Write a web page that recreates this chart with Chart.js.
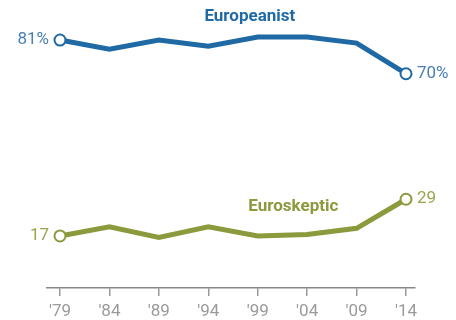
<!DOCTYPE html>
<html>
<head>
<meta charset="utf-8">
<script src="https://cdn.jsdelivr.net/npm/chart.js@4"></script>
<style>
  html, body { margin: 0; padding: 0; background: #fff; overflow: hidden; }
  #wrap { width: 456px; height: 320px; }
</style>
</head>
<body>
<div id="wrap"><canvas id="grafico"></canvas></div>
<script>
// ====== DADOS ======
const anos = [1979, 1984, 1989, 1994, 1999, 2004, 2009, 2014];
const rotulosAnos = ["'79", "'84", "'89", "'94", "'99", "'04", "'09", "'14"];
const europeanist = [81, 78, 81, 79, 82, 82, 80, 70];
const euroskeptic = [17, 20, 16.5, 20, 17, 17.5, 19.5, 29];
const nomes = ['Europeanist', 'Euroskeptic'];

// ====== ESTILO ======
const azul = '#1f6aa5';
const azulTexto = '#4a80b3';
const verde = '#8a9a3c';
const verdeTexto = '#9aa64e';
const fonte = 'Roboto, "Liberation Sans", sans-serif';

function pontos(valores) {
  return valores.map((v, i) => ({ x: anos[i], y: v }));
}

function raios(valores) {
  return valores.map((v, i) => (i === 0 || i === valores.length - 1 ? 5.5 : 0));
}

// ====== RÓTULOS ======
const rotulosPlugin = {
  id: 'rotulos',
  afterDatasetsDraw(chart) {
    const { ctx, scales } = chart;
    const fim = anos.length - 1;
    const config = [
      { ds: 0, cor: azulTexto, corNome: azul, ini: '81%', ult: '70%', nomeX: 1998.2, nomeY: 88.5 },
      { ds: 1, cor: verdeTexto, corNome: verde, ini: '17', ult: '29', nomeX: 2002.6, nomeY: 26.4 },
    ];
    ctx.save();
    ctx.textBaseline = 'middle';
    config.forEach(c => {
      const meta = chart.getDatasetMeta(c.ds);
      const p0 = meta.data[0];
      const p1 = meta.data[fim];
      ctx.font = '17px ' + fonte;
      ctx.fillStyle = c.cor;
      ctx.textAlign = 'right';
      ctx.fillText(c.ini, p0.x - 11, p0.y);
      ctx.textAlign = 'left';
      ctx.fillText(c.ult, p1.x + 11, p1.y);

      ctx.font = 'bold 17px ' + fonte;
      ctx.fillStyle = c.corNome;
      ctx.textAlign = 'center';
      ctx.fillText(nomes[c.ds], scales.x.getPixelForValue(c.nomeX), scales.y.getPixelForValue(c.nomeY));
    });
    ctx.restore();
  },
};

// ====== GRÁFICO ======
const ctx = document.getElementById('grafico').getContext('2d');
const chart = new Chart(ctx, {
  type: 'line',
  data: {
    datasets: [
      {
        label: nomes[0],
        data: pontos(europeanist),
        borderColor: azul,
        borderWidth: 5,
        pointRadius: raios(europeanist),
        pointBackgroundColor: '#fff',
        pointBorderColor: azul,
        pointBorderWidth: 2,
        tension: 0,
      },
      {
        label: nomes[1],
        data: pontos(euroskeptic),
        borderColor: verde,
        borderWidth: 5,
        pointRadius: raios(euroskeptic),
        pointBackgroundColor: '#fff',
        pointBorderColor: verde,
        pointBorderWidth: 2,
        tension: 0,
      },
    ],
  },
  options: {
    responsive: true,
    maintainAspectRatio: false,
    animation: false,
    layout: { padding: { top: 12.5, left: 47, right: 41, bottom: 0 } },
    plugins: {
      legend: { display: false },
      tooltip: { enabled: false },
    },
    scales: {
      x: {
        type: 'linear',
        min: 1977.685,
        max: 2014.91,
        afterBuildTicks: axis => {
          axis.ticks = anos.map(a => ({ value: a }));
        },
        afterFit: axis => {
          axis.height = 32;
        },
        grid: {
          drawOnChartArea: false,
          drawTicks: true,
          tickLength: 8,
          color: '#999',
          lineWidth: 1.5,
        },
        border: { display: true, color: '#888', width: 1.5 },
        ticks: {
          color: '#9a9a9a',
          padding: 6,
          maxRotation: 0,
          autoSkip: false,
          font: { size: 17, family: fonte },
          callback: (v) => {
            const i = anos.indexOf(v);
            return i >= 0 ? rotulosAnos[i] : '';
          },
        },
      },
      y: {
        display: false,
        min: 0,
        max: 90,
      },
    },
  },
  plugins: [rotulosPlugin],
});
</script>
</body>
</html>
